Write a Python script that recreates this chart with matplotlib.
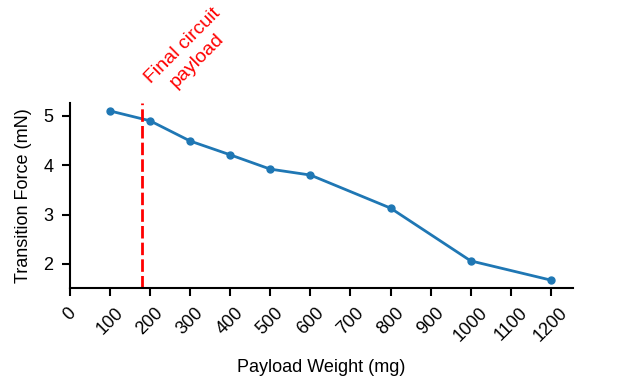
import matplotlib.pyplot as plt

plt.rcParams["font.family"] = ["Liberation Sans", "DejaVu Sans"]

# payload sweep
payload_mg = [100, 200, 300, 400, 500, 600, 800, 1000, 1200]
force_mN = [5.10, 4.90, 4.49, 4.21, 3.92, 3.80, 3.13, 2.06, 1.67]
x_ticks = list(range(0, 1300, 100))
y_ticks = [2, 3, 4, 5]
final_payload_mg = 180

fig = plt.figure(figsize=(6.18, 3.84), dpi=100, facecolor="white")
ax = fig.add_axes([0.113, 0.25, 0.814, 0.483])

ax.plot(payload_mg, force_mN, color="#1f77b4", linewidth=2,
        marker="o", markersize=5)
ax.axvline(final_payload_mg, color="red", linestyle="--", linewidth=2,
           dashes=(4.5, 1.5))

ax.set_xlim(0, 1255)
ax.set_ylim(1.51, 5.27)
ax.set_xticks(x_ticks)
ax.set_xticklabels([str(t) for t in x_ticks], rotation=45, ha="center")
ax.set_yticks(y_ticks)

ax.spines["top"].set_visible(False)
ax.spines["right"].set_visible(False)
ax.spines["left"].set_linewidth(1.5)
ax.spines["bottom"].set_linewidth(1.5)
ax.tick_params(direction="out", length=6, width=1.5, labelsize=13, pad=6)

ax.set_xlabel("Payload Weight (mg)", fontsize=13, labelpad=10)
ax.set_ylabel("Transition Force (mN)", fontsize=13, labelpad=8)

ax.text(final_payload_mg, 5.29, "Final circuit\npayload", color="red",
        fontsize=14, rotation=45, ha="left", va="bottom",
        multialignment="center", linespacing=1.25, clip_on=False)

fig.savefig("out.png", dpi=100, facecolor="white")
